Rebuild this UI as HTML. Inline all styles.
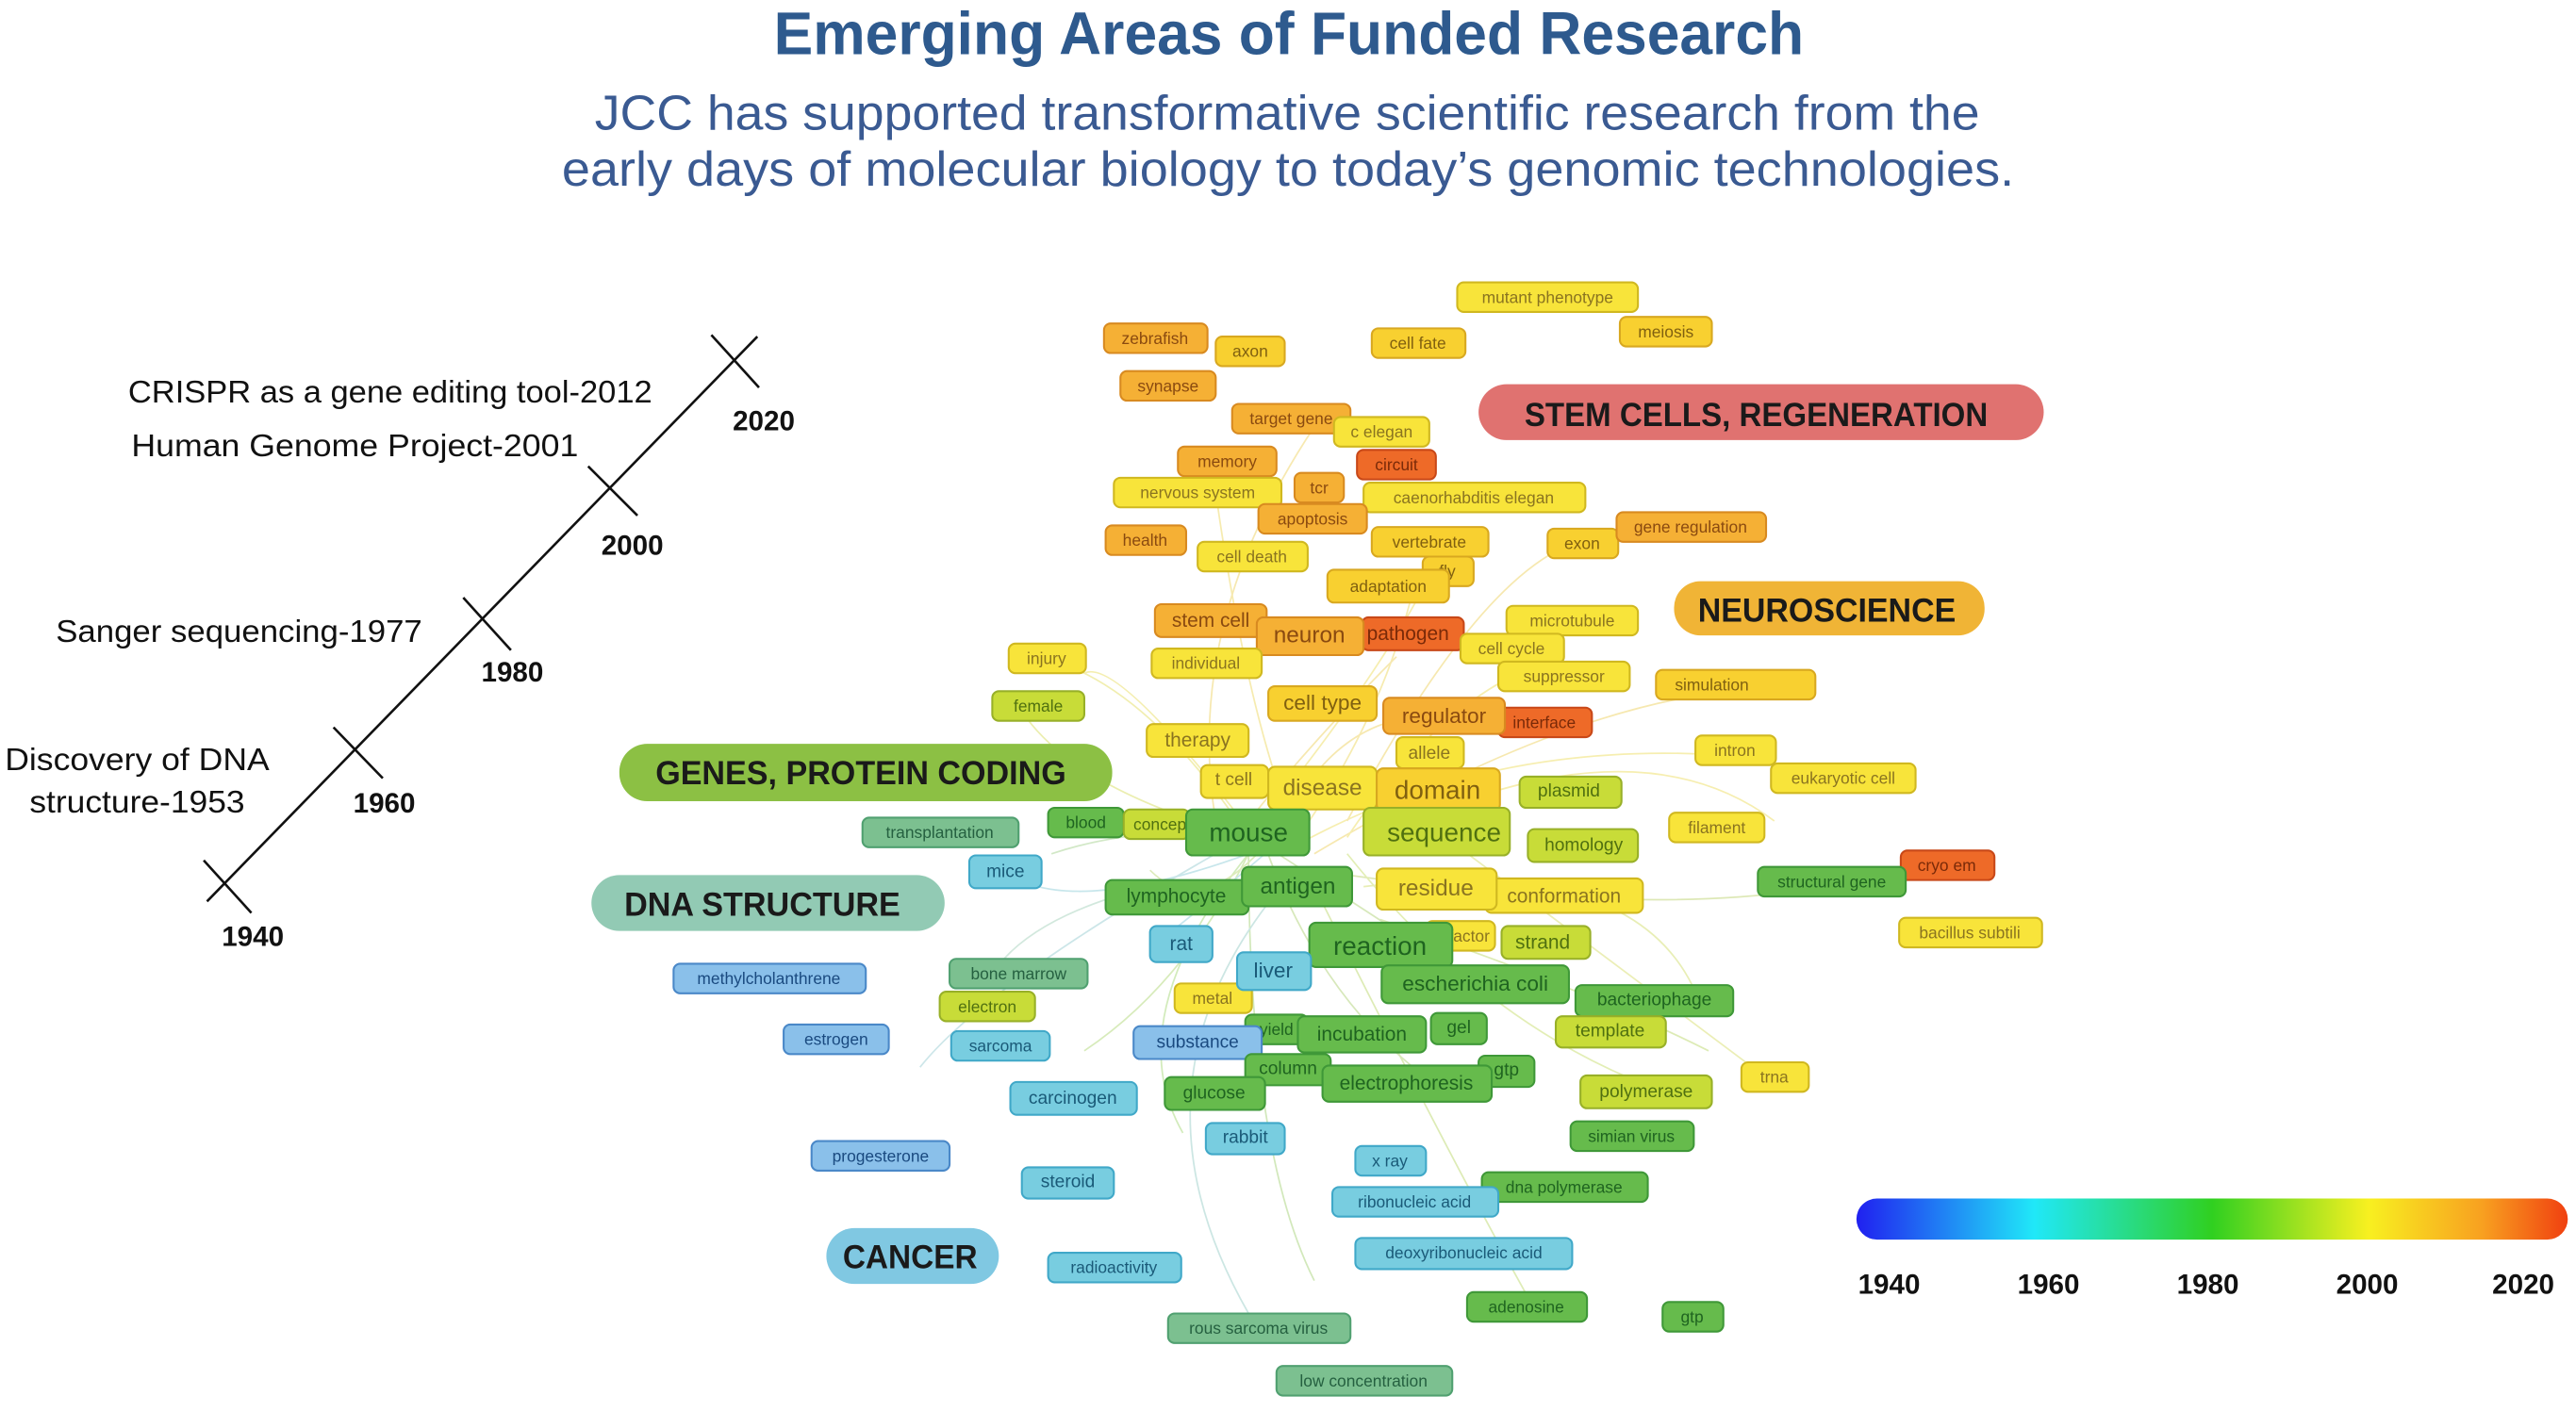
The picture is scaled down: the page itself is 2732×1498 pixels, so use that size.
<!DOCTYPE html>
<html><head><meta charset="utf-8"><style>
html,body{margin:0;padding:0;background:#fff}
svg{display:block}
text{font-family:"Liberation Sans",sans-serif}
.w rect{stroke-width:1.2}
.y rect{fill:#f8e43a;stroke:#d0b820}.y text{fill:#8a7420}
.o rect{fill:#f5b035;stroke:#d88a20}.o text{fill:#8a4a10}
.r rect{fill:#ee6a28;stroke:#c84818}.r text{fill:#7a2a08}
.yo rect{fill:#f8d030;stroke:#d8a820}.yo text{fill:#806010}
.yg rect{fill:#c8dc38;stroke:#98b028}.yg text{fill:#507010}
.g rect{fill:#66bb4c;stroke:#3f9838}.g text{fill:#1f6420}
.tg rect{fill:#7cc090;stroke:#50a070}.tg text{fill:#256040}
.c rect{fill:#78cde0;stroke:#40a8c8}.c text{fill:#1a5a78}
.b rect{fill:#8ac0ea;stroke:#4a88c8}.b text{fill:#1a4a80}
.w text{text-anchor:middle;dominant-baseline:central;font-size:10px}
.L text{font-size:14px}
.cat{font-weight:bold;font-size:20px;text-anchor:middle;dominant-baseline:central;fill:#1a1a1a;font-family:"Liberation Sans",sans-serif}
.tl{font-size:19px;fill:#111}
.yr{font-size:17px;font-weight:bold;fill:#111}
</style></head><body>
<svg width="2732" height="1498" viewBox="0 0 1568 860" preserveAspectRatio="none" xmlns="http://www.w3.org/2000/svg">
<defs><linearGradient id="cb" x1="0" x2="1">
<stop offset="0" stop-color="#2020f0"/><stop offset="0.25" stop-color="#20e8f8"/><stop offset="0.5" stop-color="#30d020"/><stop offset="0.72" stop-color="#f8f020"/><stop offset="0.88" stop-color="#f8a020"/><stop offset="1" stop-color="#f04010"/></linearGradient></defs>
<text x="471" y="33" textLength="627" lengthAdjust="spacingAndGlyphs" font-size="37" font-weight="bold" fill="#2e5a8e">Emerging Areas of Funded Research</text>
<text x="362" y="79" textLength="843" lengthAdjust="spacingAndGlyphs" font-size="30" fill="#3a5a92">JCC has supported transformative scientific research from the</text>
<text x="342" y="113" textLength="884" lengthAdjust="spacingAndGlyphs" font-size="30" fill="#3a5a92">early days of molecular biology to today’s genomic technologies.</text>
<!-- timeline -->
<g stroke="#111" stroke-width="1.5" fill="none">
<line x1="126" y1="549" x2="461" y2="205"/>
<line x1="124" y1="524" x2="153" y2="556"/><line x1="203" y1="443" x2="233" y2="474"/><line x1="282" y1="364" x2="311" y2="396"/><line x1="358" y1="284" x2="388" y2="314"/><line x1="433" y1="204" x2="462" y2="236"/>
</g>
<text class="yr" x="135" y="576">1940</text><text class="yr" x="215" y="495">1960</text><text class="yr" x="293" y="415">1980</text><text class="yr" x="366" y="338">2000</text><text class="yr" x="446" y="262">2020</text>
<text class="tl" x="78" y="245" textLength="319" lengthAdjust="spacingAndGlyphs">CRISPR as a gene editing tool-2012</text>
<text class="tl" x="80" y="278" textLength="272" lengthAdjust="spacingAndGlyphs">Human Genome Project-2001</text>
<text class="tl" x="34" y="391" textLength="223" lengthAdjust="spacingAndGlyphs">Sanger sequencing-1977</text>
<text class="tl" x="3" y="469" textLength="161" lengthAdjust="spacingAndGlyphs">Discovery of DNA</text>
<text class="tl" x="18" y="495" textLength="131" lengthAdjust="spacingAndGlyphs">structure-1953</text>
<!-- edges -->
<g fill="none" stroke-width="1" opacity="0.35">
<path d="M760 510 Q700 420 640 402" stroke="#d8d020"/><path d="M760 510 Q650 480 620 430" stroke="#c8d020"/>
<path d="M760 510 Q850 400 880 330" stroke="#e8d020"/><path d="M780 520 Q900 450 1050 460" stroke="#e8d020"/>
<path d="M800 520 Q950 430 1060 420" stroke="#e8c020"/><path d="M800 530 Q1000 560 1110 540" stroke="#a0c030"/>
<path d="M760 520 Q650 560 610 530" stroke="#60b8c8"/><path d="M760 520 Q680 620 720 690" stroke="#80c840"/>
<path d="M760 520 Q760 700 800 780" stroke="#80c040"/><path d="M800 540 Q880 700 930 790" stroke="#a0c830"/>
<path d="M820 520 Q900 620 1000 660" stroke="#b0d030"/><path d="M780 540 Q680 660 760 800" stroke="#70b8b0"/>
<path d="M760 520 Q720 600 660 640" stroke="#90c840"/><path d="M790 510 Q840 440 860 360" stroke="#e8c820"/>
<path d="M790 510 Q760 440 740 300" stroke="#e8c820"/><path d="M820 510 Q880 420 950 400" stroke="#e8d020"/>
<path d="M770 520 Q700 580 700 575" stroke="#60b8d0"/><path d="M700 540 Q620 560 600 600" stroke="#80c0a0"/>
<path d="M840 560 Q960 600 1040 640" stroke="#a0c830"/><path d="M830 540 Q990 520 1030 600" stroke="#c0d030"/>
<path d="M740 500 Q720 380 800 260" stroke="#e8c020"/><path d="M820 500 Q900 350 960 330" stroke="#e8c020"/>
<path d="M760 505 Q680 400 660 410" stroke="#e0d020"/><path d="M780 505 Q820 420 900 440" stroke="#e8c020"/>
<path d="M760 500 Q800 450 850 400" stroke="#e8c020"/><path d="M770 515 Q840 560 900 600" stroke="#90c040"/>
<path d="M770 515 Q800 600 860 650" stroke="#90c040"/><path d="M770 515 Q730 560 700 530" stroke="#a0c840"/>
<path d="M780 510 Q700 500 640 520" stroke="#80c060"/><path d="M860 500 Q1000 440 1080 500" stroke="#e8d020"/>
<path d="M880 510 Q1000 600 1080 660" stroke="#c8d030"/><path d="M740 520 Q600 600 560 650" stroke="#70b8c0"/>
</g>
<!-- category labels -->
<rect x="900" y="234" width="344" height="34" rx="17" fill="#e07270"/><text class="cat" x="1069" y="253" textLength="282" lengthAdjust="spacingAndGlyphs">STEM CELLS, REGENERATION</text>
<rect x="1019" y="354" width="189" height="33" rx="16" fill="#f0b436"/><text class="cat" x="1112" y="372" textLength="157" lengthAdjust="spacingAndGlyphs">NEUROSCIENCE</text>
<rect x="377" y="453" width="300" height="35" rx="17" fill="#8cc044"/><text class="cat" x="524" y="471" textLength="250" lengthAdjust="spacingAndGlyphs">GENES, PROTEIN CODING</text>
<rect x="360" y="533" width="215" height="34" rx="17" fill="#92cab4"/><text class="cat" x="464" y="551" textLength="168" lengthAdjust="spacingAndGlyphs">DNA STRUCTURE</text>
<rect x="503" y="748" width="105" height="34" rx="17" fill="#80c8e2"/><text class="cat" x="554" y="766" textLength="82" lengthAdjust="spacingAndGlyphs">CANCER</text>
<!-- words -->
<g class="w">
<g class="y"><rect x="887" y="172" width="110" height="18" rx="4"/><text x="942" y="181">mutant phenotype</text></g>
<g class="o"><rect x="672" y="197" width="63" height="18" rx="4"/><text x="703" y="206">zebrafish</text></g>
<g class="yo"><rect x="740" y="205" width="42" height="18" rx="4"/><text x="761" y="214">axon</text></g>
<g class="yo"><rect x="835" y="200" width="57" height="18" rx="4"/><text x="863" y="209">cell fate</text></g>
<g class="yo"><rect x="986" y="193" width="56" height="18" rx="4"/><text x="1014" y="202">meiosis</text></g>
<g class="o"><rect x="682" y="226" width="58" height="18" rx="4"/><text x="711" y="235">synapse</text></g>
<g class="o"><rect x="750" y="246" width="72" height="18" rx="4"/><text x="786" y="255">target gene</text></g>
<g class="y"><rect x="812" y="254" width="58" height="18" rx="4"/><text x="841" y="263">c elegan</text></g>
<g class="o"><rect x="717" y="272" width="60" height="18" rx="4"/><text x="747" y="281">memory</text></g>
<g class="r"><rect x="826" y="274" width="48" height="18" rx="4"/><text x="850" y="283">circuit</text></g>
<g class="y"><rect x="678" y="291" width="102" height="18" rx="4"/><text x="729" y="300">nervous system</text></g>
<g class="o"><rect x="788" y="288" width="30" height="18" rx="4"/><text x="803" y="297">tcr</text></g>
<g class="y"><rect x="830" y="294" width="135" height="18" rx="4"/><text x="897" y="303">caenorhabditis elegan</text></g>
<g class="o"><rect x="766" y="307" width="66" height="18" rx="4"/><text x="799" y="316">apoptosis</text></g>
<g class="o"><rect x="673" y="320" width="49" height="18" rx="4"/><text x="697" y="329">health</text></g>
<g class="yo"><rect x="835" y="321" width="71" height="18" rx="4"/><text x="870" y="330">vertebrate</text></g>
<g class="yo"><rect x="942" y="322" width="43" height="18" rx="4"/><text x="963" y="331">exon</text></g>
<g class="o"><rect x="984" y="312" width="91" height="18" rx="4"/><text x="1029" y="321">gene regulation</text></g>
<g class="yo"><rect x="866" y="339" width="31" height="18" rx="4"/><text x="881" y="348">fly</text></g>
<g class="y"><rect x="729" y="330" width="67" height="18" rx="4"/><text x="762" y="339">cell death</text></g>
<g class="yo"><rect x="808" y="347" width="74" height="20" rx="4"/><text x="845" y="357">adaptation</text></g>
<g class="o"><rect x="703" y="368" width="68" height="20" rx="4"/><text x="737" y="378" style="font-size:12px">stem cell</text></g>
<g class="r"><rect x="829" y="376" width="62" height="20" rx="4"/><text x="857" y="386" style="font-size:12px">pathogen</text></g>
<g class="o L"><rect x="765" y="376" width="65" height="23" rx="4"/><text x="797" y="387">neuron</text></g>
<g class="y"><rect x="917" y="369" width="80" height="18" rx="4"/><text x="957" y="378">microtubule</text></g>
<g class="y"><rect x="889" y="386" width="63" height="18" rx="4"/><text x="920" y="395">cell cycle</text></g>
<g class="y"><rect x="614" y="392" width="47" height="18" rx="4"/><text x="637" y="401">injury</text></g>
<g class="y"><rect x="701" y="395" width="67" height="18" rx="4"/><text x="734" y="404">individual</text></g>
<g class="y"><rect x="912" y="403" width="80" height="18" rx="4"/><text x="952" y="412">suppressor</text></g>
<g class="yo"><rect x="1008" y="408" width="97" height="18" rx="4"/><text x="1042" y="417">simulation</text></g>
<g class="yg"><rect x="604" y="421" width="56" height="18" rx="4"/><text x="632" y="430">female</text></g>
<g class="r"><rect x="912" y="431" width="57" height="18" rx="4"/><text x="940" y="440">interface</text></g>
<g class="yo L"><rect x="772" y="418" width="66" height="21" rx="4"/><text x="805" y="428" style="font-size:13px">cell type</text></g>
<g class="o L"><rect x="842" y="425" width="74" height="22" rx="4"/><text x="879" y="436" style="font-size:13px">regulator</text></g>
<g class="y"><rect x="698" y="441" width="62" height="20" rx="4"/><text x="729" y="451" style="font-size:12px">therapy</text></g>
<g class="y"><rect x="850" y="449" width="41" height="19" rx="4"/><text x="870" y="459" style="font-size:11px">allele</text></g>
<g class="y"><rect x="1032" y="448" width="49" height="18" rx="4"/><text x="1056" y="457">intron</text></g>
<g class="y"><rect x="731" y="466" width="41" height="20" rx="4"/><text x="751" y="475" style="font-size:11px">t cell</text></g>
<g class="y L"><rect x="772" y="467" width="66" height="26" rx="4"/><text x="805" y="480">disease</text></g>
<g class="yo L"><rect x="838" y="468" width="75" height="26" rx="4"/><text x="875" y="481" style="font-size:16px">domain</text></g>
<g class="yg"><rect x="925" y="473" width="62" height="19" rx="4"/><text x="955" y="482" style="font-size:11px">plasmid</text></g>
<g class="y"><rect x="1078" y="465" width="88" height="18" rx="4"/><text x="1122" y="474">eukaryotic cell</text></g>
<g class="g"><rect x="638" y="492" width="46" height="18" rx="4"/><text x="661" y="501">blood</text></g>
<g class="yg"><rect x="684" y="493" width="40" height="18" rx="4"/><text x="706" y="502">concep</text></g>
<g class="g L"><rect x="722" y="493" width="75" height="28" rx="4"/><text x="760" y="507" style="font-size:16px">mouse</text></g>
<g class="yg L"><rect x="830" y="492" width="89" height="29" rx="4"/><text x="879" y="507" style="font-size:16px">sequence</text></g>
<g class="yg"><rect x="930" y="505" width="67" height="20" rx="4"/><text x="964" y="515" style="font-size:11px">homology</text></g>
<g class="y"><rect x="1016" y="495" width="58" height="18" rx="4"/><text x="1045" y="504">filament</text></g>
<g class="tg"><rect x="525" y="498" width="95" height="18" rx="4"/><text x="572" y="507">transplantation</text></g>
<g class="c"><rect x="590" y="521" width="44" height="20" rx="4"/><text x="612" y="531" style="font-size:11px">mice</text></g>
<g class="r"><rect x="1157" y="518" width="57" height="18" rx="4"/><text x="1185" y="527">cryo em</text></g>
<g class="g"><rect x="1070" y="528" width="90" height="18" rx="4"/><text x="1115" y="537">structural gene</text></g>
<g class="g"><rect x="673" y="536" width="87" height="21" rx="4"/><text x="716" y="546" style="font-size:12px">lymphocyte</text></g>
<g class="y"><rect x="868" y="561" width="42" height="18" rx="4"/><text x="889" y="570">cofactor</text></g>
<g class="g L"><rect x="756" y="528" width="67" height="24" rx="4"/><text x="790" y="540">antigen</text></g>
<g class="y"><rect x="904" y="535" width="96" height="21" rx="4"/><text x="952" y="546" style="font-size:12px">conformation</text></g>
<g class="y L"><rect x="838" y="529" width="73" height="25" rx="4"/><text x="874" y="541">residue</text></g>
<g class="yg"><rect x="914" y="564" width="54" height="20" rx="4"/><text x="939" y="574" style="font-size:12px">strand</text></g>
<g class="y"><rect x="1156" y="559" width="87" height="18" rx="4"/><text x="1199" y="568">bacillus subtili</text></g>
<g class="c"><rect x="700" y="564" width="38" height="22" rx="4"/><text x="719" y="575" style="font-size:12px">rat</text></g>
<g class="g L"><rect x="797" y="562" width="87" height="27" rx="4"/><text x="840" y="576" style="font-size:16px">reaction</text></g>
<g class="tg"><rect x="578" y="584" width="84" height="18" rx="4"/><text x="620" y="593">bone marrow</text></g>
<g class="b"><rect x="410" y="587" width="117" height="18" rx="4"/><text x="468" y="596">methylcholanthrene</text></g>
<g class="y"><rect x="715" y="599" width="47" height="18" rx="4"/><text x="738" y="608">metal</text></g>
<g class="c"><rect x="753" y="580" width="45" height="23" rx="4"/><text x="775" y="591" style="font-size:13px">liver</text></g>
<g class="g"><rect x="841" y="588" width="114" height="23" rx="4"/><text x="898" y="599" style="font-size:13px">escherichia coli</text></g>
<g class="yg"><rect x="572" y="604" width="58" height="18" rx="4"/><text x="601" y="613">electron</text></g>
<g class="g"><rect x="959" y="600" width="96" height="19" rx="4"/><text x="1007" y="609" style="font-size:11px">bacteriophage</text></g>
<g class="c"><rect x="579" y="628" width="60" height="18" rx="4"/><text x="609" y="637">sarcoma</text></g>
<g class="b"><rect x="477" y="624" width="64" height="18" rx="4"/><text x="509" y="633">estrogen</text></g>
<g class="g"><rect x="758" y="618" width="38" height="18" rx="4"/><text x="777" y="627">yield</text></g>
<g class="b"><rect x="690" y="625" width="78" height="20" rx="4"/><text x="729" y="635" style="font-size:11px">substance</text></g>
<g class="g"><rect x="790" y="619" width="78" height="22" rx="4"/><text x="829" y="630" style="font-size:12px">incubation</text></g>
<g class="g"><rect x="871" y="617" width="34" height="19" rx="4"/><text x="888" y="626" style="font-size:11px">gel</text></g>
<g class="yg"><rect x="947" y="619" width="67" height="19" rx="4"/><text x="980" y="628" style="font-size:11px">template</text></g>
<g class="g"><rect x="758" y="642" width="52" height="19" rx="4"/><text x="784" y="651" style="font-size:11px">column</text></g>
<g class="g"><rect x="900" y="643" width="34" height="19" rx="4"/><text x="917" y="652" style="font-size:11px">gtp</text></g>
<g class="g"><rect x="805" y="649" width="103" height="22" rx="4"/><text x="856" y="660" style="font-size:12px">electrophoresis</text></g>
<g class="c"><rect x="615" y="659" width="77" height="20" rx="4"/><text x="653" y="669" style="font-size:11px">carcinogen</text></g>
<g class="g"><rect x="709" y="656" width="61" height="20" rx="4"/><text x="739" y="666" style="font-size:11px">glucose</text></g>
<g class="yg"><rect x="962" y="655" width="80" height="20" rx="4"/><text x="1002" y="665" style="font-size:11px">polymerase</text></g>
<g class="y"><rect x="1060" y="647" width="41" height="18" rx="4"/><text x="1080" y="656">trna</text></g>
<g class="c"><rect x="734" y="684" width="48" height="19" rx="4"/><text x="758" y="693" style="font-size:11px">rabbit</text></g>
<g class="g"><rect x="956" y="683" width="75" height="18" rx="4"/><text x="993" y="692">simian virus</text></g>
<g class="b"><rect x="494" y="695" width="84" height="18" rx="4"/><text x="536" y="704">progesterone</text></g>
<g class="c"><rect x="825" y="698" width="43" height="18" rx="4"/><text x="846" y="707">x ray</text></g>
<g class="c"><rect x="622" y="711" width="56" height="19" rx="4"/><text x="650" y="720" style="font-size:11px">steroid</text></g>
<g class="g"><rect x="902" y="714" width="101" height="18" rx="4"/><text x="952" y="723">dna polymerase</text></g>
<g class="c"><rect x="811" y="723" width="101" height="18" rx="4"/><text x="861" y="732">ribonucleic acid</text></g>
<g class="c"><rect x="825" y="754" width="132" height="19" rx="4"/><text x="891" y="763">deoxyribonucleic acid</text></g>
<g class="c"><rect x="638" y="763" width="81" height="18" rx="4"/><text x="678" y="772">radioactivity</text></g>
<g class="g"><rect x="893" y="787" width="73" height="18" rx="4"/><text x="929" y="796">adenosine</text></g>
<g class="g"><rect x="1012" y="793" width="37" height="18" rx="4"/><text x="1030" y="802">gtp</text></g>
<g class="tg"><rect x="711" y="800" width="111" height="18" rx="4"/><text x="766" y="809">rous sarcoma virus</text></g>
<g class="tg"><rect x="777" y="832" width="107" height="18" rx="4"/><text x="830" y="841">low concentration</text></g>
</g>
<!-- colorbar -->
<rect x="1130" y="730" width="433" height="25" rx="12.5" fill="url(#cb)"/>
<g class="yr" font-size="17"><text x="1131" y="788">1940</text><text x="1228" y="788">1960</text><text x="1325" y="788">1980</text><text x="1422" y="788">2000</text><text x="1517" y="788">2020</text></g>
</svg>
</body></html>
